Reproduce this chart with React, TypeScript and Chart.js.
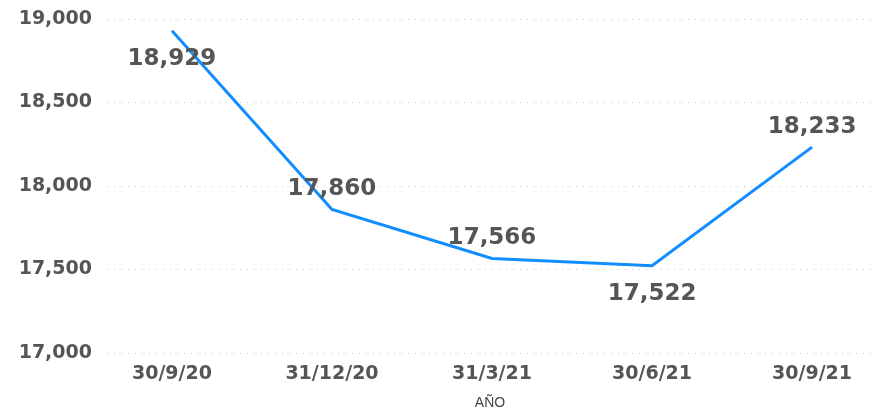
import React, { useEffect, useRef } from "react";
import { Chart, registerables } from "chart.js";

Chart.register(...registerables);

const categories = ["30/9/20", "31/12/20", "31/3/21", "30/6/21", "30/9/21"];
const values = [18929, 17860, 17566, 17522, 18233];
const yTicks = [17000, 17500, 18000, 18500, 19000];
const xTitle = "AÑO";

const FONT = "'DejaVu Sans', sans-serif";
const TEXT = "#555555";

const labelPlugin = {
  id: "valueLabels",
  afterDatasetsDraw(chart: any) {
    const ctx = chart.ctx;
    const meta = chart.getDatasetMeta(0);
    const below = [true, false, false, true, false];
    ctx.save();
    ctx.font = `bold 23px ${FONT}`;
    ctx.fillStyle = TEXT;
    ctx.textAlign = "center";
    ctx.textBaseline = "middle";
    meta.data.forEach((pt: any, i: number) => {
      const v = values[i];
      const txt = v.toLocaleString("en-US");
      const dy = below[i] ? 28 : -20;
      ctx.fillText(txt, pt.x, pt.y + dy);
    });
    ctx.restore();
  },
};

export default function App() {
  const ref = useRef<HTMLCanvasElement | null>(null);
  useEffect(() => {
    document.body.style.margin = "0";
    const chart = new Chart(ref.current as HTMLCanvasElement, {
      type: "line",
      data: {
        datasets: [
          {
            data: values.map((v, i) => ({ x: i, y: v })),
            borderColor: "#118DFF",
            borderWidth: 3,
            pointRadius: 0,
            tension: 0,
            fill: false,
          },
        ],
      },
      options: {
        animation: false,
        responsive: false,
        maintainAspectRatio: false,
        layout: { padding: { top: 19, left: 0, right: 0, bottom: 0 } },
        plugins: { legend: { display: false }, tooltip: { enabled: false } },
        scales: {
          x: {
            type: "linear",
            min: -0.406,
            max: 4.381,
            grid: { display: false },
            border: { display: false },
            afterBuildTicks: (scale: any) => {
              scale.ticks = categories.map((_, i) => ({ value: i }));
            },
            afterFit: (scale: any) => {
              scale.height = 59;
              scale.paddingLeft = 0;
              scale.paddingRight = 0;
            },
            ticks: {
              autoSkip: false,
              maxRotation: 0,
              padding: 2,
              color: TEXT,
              font: { family: FONT, size: 19, weight: "bold" },
              callback: (v: any) => categories[v] ?? "",
            },
            title: {
              display: true,
              text: xTitle,
              color: "#444444",
              font: { family: "'Liberation Sans', Arial, sans-serif", size: 14 },
              padding: { top: 0, bottom: 0 },
            },
          },
          y: {
            min: 17000,
            max: 19000,
            afterBuildTicks: (scale: any) => {
              scale.ticks = yTicks.map((v) => ({ value: v }));
            },
            afterFit: (scale: any) => {
              scale.width = 107;
              scale.paddingTop = 0;
              scale.paddingBottom = 0;
            },
            border: { display: false, dash: [1, 6] },
            grid: {
              color: "#c8c8c8",
              lineWidth: 1,
              drawTicks: false,
            },
            ticks: {
              padding: 15,
              color: TEXT,
              font: { family: FONT, size: 19, weight: "bold" },
              callback: (v: any) => Number(v).toLocaleString("en-US"),
            },
          },
        },
      },
      plugins: [labelPlugin],
    } as any);
    return () => chart.destroy();
  }, []);
  return (
    <div style={{ position: "absolute", left: 0, top: 0, width: 873, height: 412 }}>
      <canvas ref={ref} width={873} height={412} style={{ width: 873, height: 412 }} />
    </div>
  );
}
